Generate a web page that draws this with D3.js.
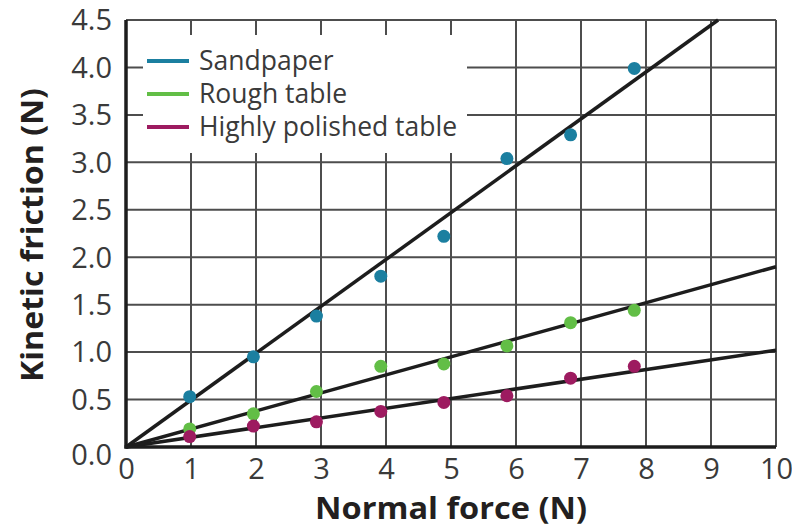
<!DOCTYPE html>
<html><head><meta charset="utf-8">
<script src="https://cdn.jsdelivr.net/npm/d3@7"></script>
<style>body{margin:0;background:#fff}svg{display:block}</style>
</head><body><svg id="c" width="792" height="532"></svg>
<script>
// ---- data ----
const normalForce   = [0.98, 1.96, 2.93, 3.92, 4.89, 5.86, 6.84, 7.82];
const sandpaper     = [0.53, 0.95, 1.38, 1.80, 2.22, 3.04, 3.29, 3.99];
const roughTable    = [0.19, 0.35, 0.585, 0.85, 0.875, 1.065, 1.31, 1.44];
const polishedTable = [0.11, 0.22, 0.265, 0.375, 0.47, 0.54, 0.725, 0.85];
const seriesNames   = ["Sandpaper", "Rough table", "Highly polished table"];
const seriesColors  = ["#1b7fa0", "#62be46", "#9d1b60"];
const fitSlopes     = [0.494, 0.19, 0.102];
const xTicks = [0, 1, 2, 3, 4, 5, 6, 7, 8, 9, 10];
const yTicks = [0, 0.5, 1, 1.5, 2, 2.5, 3, 3.5, 4, 4.5];
const xTitle = "Normal force (N)";
const yTitle = "Kinetic friction (N)";

const seriesValues = [sandpaper, roughTable, polishedTable];

const svg = d3.select("#c");
const x = d3.scaleLinear().domain([0, 10]).range([126, 776]);
const y = d3.scaleLinear().domain([0, 4.5]).range([447, 20]);
const FONT = "'Open Sans', 'Liberation Sans', sans-serif";

// grid
const grid = svg.append("g").attr("stroke", "#4d4d4d").attr("stroke-width", 2);
grid.selectAll("line.v").data(xTicks.slice(1)).join("line")
  .attr("x1", d => x(d)).attr("x2", d => x(d))
  .attr("y1", y(0)).attr("y2", y(4.5));
grid.selectAll("line.h").data(yTicks.slice(1)).join("line")
  .attr("x1", x(0)).attr("x2", x(10))
  .attr("y1", d => y(d)).attr("y2", d => y(d));

// legend background (white box hiding grid)
svg.append("rect").attr("x", 143).attr("y", 35).attr("width", 324).attr("height", 118).attr("fill", "#fff");

// fit lines
const fits = svg.append("g").attr("stroke", "#1d1d1d").attr("stroke-width", 3.5).attr("stroke-linecap", "butt");
fitSlopes.forEach(s => {
  const xEnd = Math.min(10, 4.5 / s);
  fits.append("line")
    .attr("x1", x(0)).attr("y1", y(0))
    .attr("x2", x(xEnd)).attr("y2", y(s * xEnd));
});

// axes lines
const ax = svg.append("g").attr("stroke", "#1d1d1d").attr("stroke-width", 3.5);
ax.append("line").attr("x1", x(0)).attr("x2", x(0)).attr("y1", y(4.5)).attr("y2", y(0) + 1.5);
ax.append("line").attr("x1", x(0) - 1.5).attr("x2", x(10)).attr("y1", y(0)).attr("y2", y(0));

// points
seriesValues.forEach((vals, i) => {
  svg.append("g").selectAll("circle").data(vals).join("circle")
    .attr("cx", (d, j) => x(normalForce[j]))
    .attr("cy", d => y(d))
    .attr("r", 6.5)
    .attr("fill", seriesColors[i]);
});

// tick labels
const xAxis = svg.append("g").attr("transform", `translate(0,${y(0)})`)
  .call(d3.axisBottom(x).tickValues(xTicks).tickSize(0).tickPadding(11).tickFormat(d3.format("d")));
xAxis.select(".domain").remove();
xAxis.selectAll("text").attr("font-family", FONT).attr("font-size", 29).attr("fill", "#3a3a3a");

const yAxis = svg.append("g").attr("transform", `translate(${x(0)},0)`)
  .call(d3.axisLeft(y).tickValues(yTicks).tickSize(0).tickPadding(14).tickFormat(d3.format(".1f")));
yAxis.select(".domain").remove();
yAxis.selectAll("text").attr("font-family", FONT).attr("font-size", 29).attr("fill", "#3a3a3a")
  .attr("dy", d => d === 0 ? "0.6em" : "0.34em");

// titles
svg.append("text").attr("x", x(5)).attr("y", 519).attr("text-anchor", "middle")
  .attr("font-family", FONT).attr("font-weight", 700).attr("font-size", 30).attr("fill", "#231f20")
  .attr("textLength", 272).attr("lengthAdjust", "spacingAndGlyphs").text(xTitle);
svg.append("text").attr("transform", `translate(43,${235}) rotate(-90)`).attr("text-anchor", "middle")
  .attr("font-family", FONT).attr("font-weight", 700).attr("font-size", 30).attr("fill", "#231f20")
  .attr("textLength", 294).attr("lengthAdjust", "spacingAndGlyphs").text(yTitle);

// legend
const leg = svg.append("g");
seriesNames.forEach((name, i) => {
  const ly = 61 + i * 33;
  leg.append("line").attr("x1", 147).attr("x2", 189).attr("y1", ly).attr("y2", ly)
    .attr("stroke", seriesColors[i]).attr("stroke-width", 4);
  leg.append("text").attr("x", 199).attr("y", ly + 8.5)
    .attr("font-family", FONT).attr("font-size", 26.5).attr("fill", "#3a3a3a").text(name);
});
</script>
</body></html>
